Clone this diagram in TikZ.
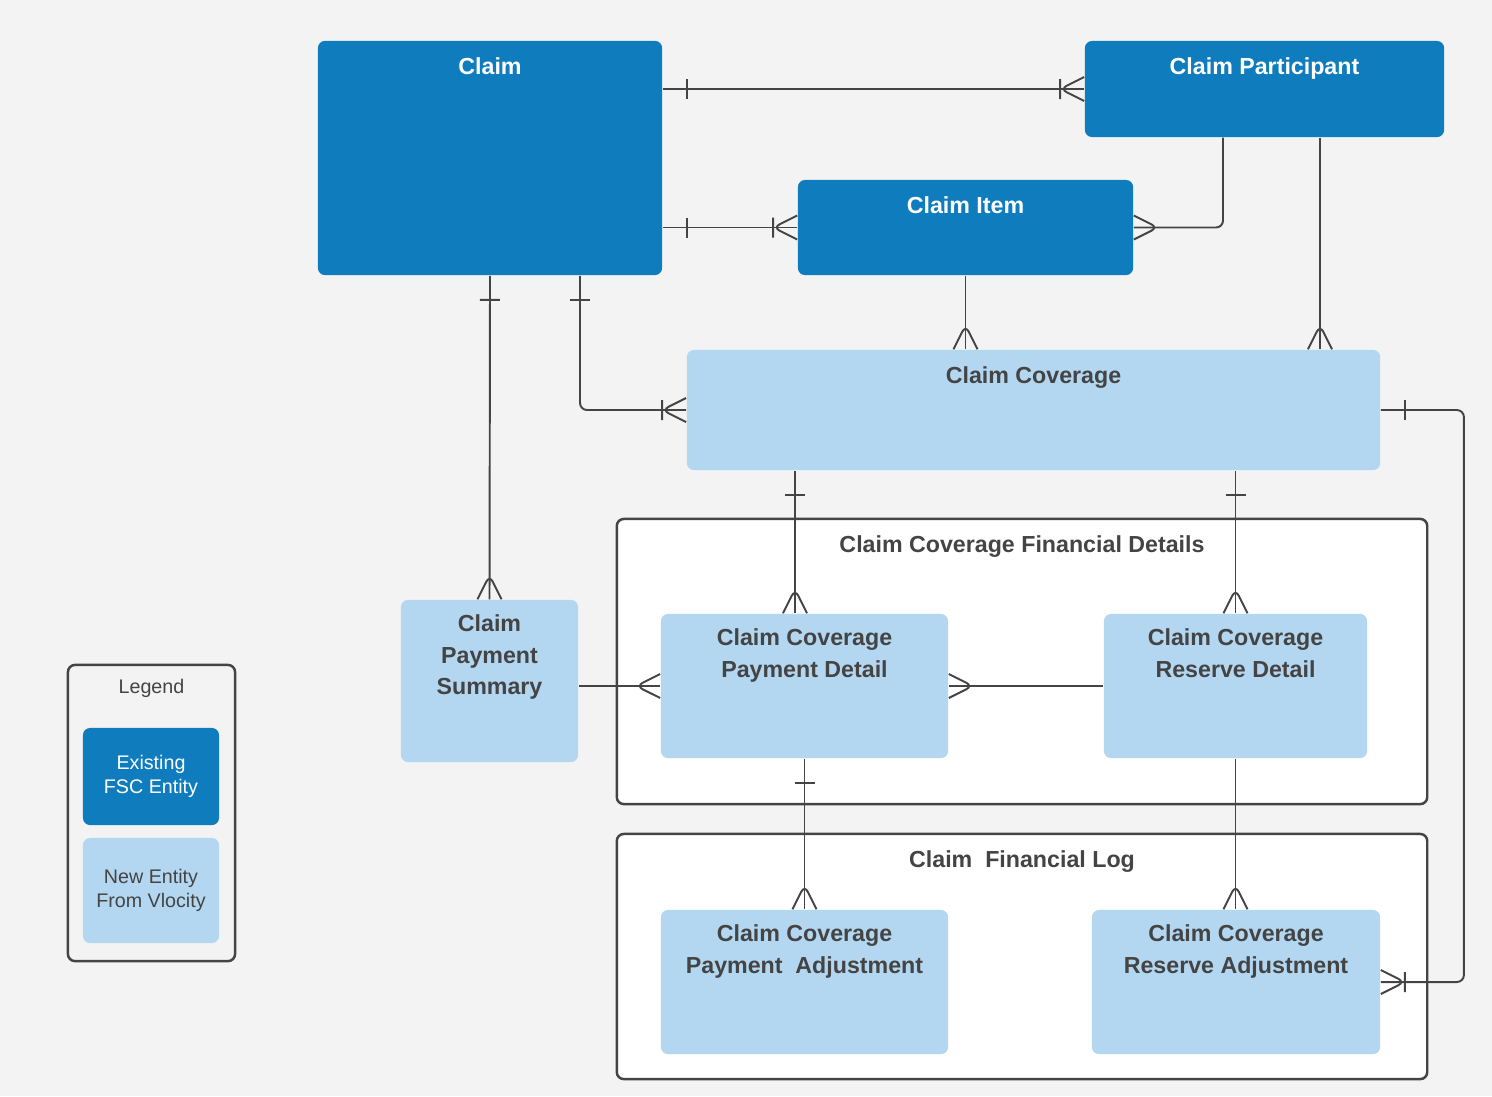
\documentclass[tikz,border=0pt]{standalone}
\usepackage{fontspec}
\setmainfont{Liberation Sans}
\usetikzlibrary{decorations.markings}
\definecolor{fscblue}{HTML}{0E7CBD}
\definecolor{newblue}{HTML}{B3D7F1}
\definecolor{bggray}{HTML}{F3F3F3}
\definecolor{linegray}{HTML}{444444}
\tikzset{
  entity/.style={rounded corners=2pt,inner sep=0pt},
  fsc/.style={entity,fill=fscblue},
  newent/.style={entity,fill=newblue},
  group/.style={draw=linegray,fill=white,line width=0.7pt,rounded corners=2pt},
  title/.style={font=\fontsize{6.6}{9}\selectfont\bfseries,align=center,text=#1},
  rel/.style={draw=linegray,line width=0.55pt,rounded corners=2pt},
  many/.style={rel,postaction=decorate,decoration={markings,
    mark=at position -0.24cm with {\draw[linegray,line width=0.55pt] (0.24cm,0.12cm)--(0,0)--(0.24cm,-0.12cm);}}},
  onemany/.style={rel,postaction=decorate,decoration={markings,
    mark=at position 0.24cm with {\draw[linegray,line width=0.55pt] (0,-0.1cm)--(0,0.1cm);},
    mark=at position -0.24cm with {\draw[linegray,line width=0.55pt] (0.24cm,0.12cm)--(0,0)--(0.24cm,-0.12cm);}}},
  oneonemany/.style={rel,postaction=decorate,decoration={markings,
    mark=at position 0.24cm with {\draw[linegray,line width=0.55pt] (0,-0.1cm)--(0,0.1cm);},
    mark=at position -0.24cm with {\draw[linegray,line width=0.55pt] (0,-0.1cm)--(0,0.1cm) (0.24cm,0.12cm)--(0,0)--(0.24cm,-0.12cm);}}},
}
\begin{document}
\begin{tikzpicture}[x=0.01cm,y=-0.01cm]
  \fill[bggray] (0,0) rectangle (1492,1096);
  \useasboundingbox (0,0) rectangle (1492,1096);

  % groups
  \node[group,minimum width=8.1cm,minimum height=2.85cm,
    label={[title=linegray,anchor=north,yshift=-0.06cm]north:Claim Coverage Financial Details}] (FD) at (1022,661.5) {};
  \node[group,minimum width=8.1cm,minimum height=2.45cm,
    label={[title=linegray,anchor=north,yshift=-0.06cm]north:Claim\ \ Financial Log}] (FL) at (1022,956.5) {};

  % entities
  \node[fsc,minimum width=3.44cm,minimum height=2.34cm,
    label={[title=white,anchor=north,yshift=-0.05cm]north:Claim}] (Claim) at (490,158) {};
  \node[fsc,minimum width=3.59cm,minimum height=0.96cm,
    label={[title=white,anchor=north,yshift=-0.05cm]north:Claim Participant}] (CP) at (1264.5,89) {};
  \node[fsc,minimum width=3.35cm,minimum height=0.95cm,
    label={[title=white,anchor=north,yshift=-0.05cm]north:Claim Item}] (CI) at (965.5,227.5) {};
  \node[newent,minimum width=6.93cm,minimum height=1.2cm,
    label={[title=linegray,anchor=north,yshift=-0.05cm]north:Claim Coverage}] (CC) at (1033.5,410) {};
  \node[newent,minimum width=1.77cm,minimum height=1.62cm,
    label={[title=linegray,anchor=north,yshift=-0.03cm]north:Claim\\Payment\\Summary}] (CPS) at (489.5,681) {};
  \node[newent,minimum width=2.87cm,minimum height=1.44cm,
    label={[title=linegray,anchor=north,yshift=-0.03cm]north:Claim Coverage\\Payment Detail}] (PD) at (804.5,686) {};
  \node[newent,minimum width=2.63cm,minimum height=1.44cm,
    label={[title=linegray,anchor=north,yshift=-0.03cm]north:Claim Coverage\\Reserve Detail}] (RD) at (1235.5,686) {};
  \node[newent,minimum width=2.87cm,minimum height=1.44cm,
    label={[title=linegray,anchor=north,yshift=-0.03cm]north:Claim Coverage\\Payment\ \ Adjustment}] (PA) at (804.5,982) {};
  \node[newent,minimum width=2.88cm,minimum height=1.44cm,
    label={[title=linegray,anchor=north,yshift=-0.03cm]north:Claim Coverage\\Reserve Adjustment}] (RA) at (1236,982) {};

  % legend
  \node[group,fill=bggray,minimum width=1.67cm,minimum height=2.96cm,
    label={[anchor=north,yshift=-0.03cm,font=\fontsize{5.6}{7}\selectfont,text=linegray]north:Legend}] (Legend) at (151.5,813) {};
  \node[fsc,minimum width=1.36cm,minimum height=0.97cm,align=center,
    font=\fontsize{5.6}{7}\selectfont,text=white] (L1) at (151,776.5) {Existing\\FSC Entity};
  \node[newent,minimum width=1.36cm,minimum height=1.05cm,align=center,
    font=\fontsize{5.6}{7}\selectfont,text=linegray] (L2) at (151,890.5) {New Entity\\From Vlocity};

  % relations
  \draw[oneonemany] (Claim.east |- CP.west) -- (CP.west);
  \draw[oneonemany] (Claim.east |- CI.west) -- (CI.west);
  \draw[many] (1223,0 |- CP.south) |- (CI.east);
  \draw[many] (CI.south) -- (CI.south |- CC.north);
  \draw[many] (1320,0 |- CP.south) -- (1320,0 |- CC.north);
  \draw[onemany] (Claim.south) -- (CPS.north);
  \draw[oneonemany] (580,0 |- Claim.south) |- (CC.west);
  \draw[onemany] (795,0 |- CC.south) -- (795,0 |- PD.north);
  \draw[onemany] (RD.north |- CC.south) -- (RD.north);
  \draw[many] (CPS.east |- PD.west) -- (PD.west);
  \draw[many] (RD.west) -- (PD.east);
  \draw[onemany] (PD.south) -- (PA.north);
  \draw[many] (RD.south) -- (RD.south |- RA.north);
  \draw[oneonemany] (CC.east) -- ++(83,0) |- (RA.east);
\end{tikzpicture}
\end{document}
